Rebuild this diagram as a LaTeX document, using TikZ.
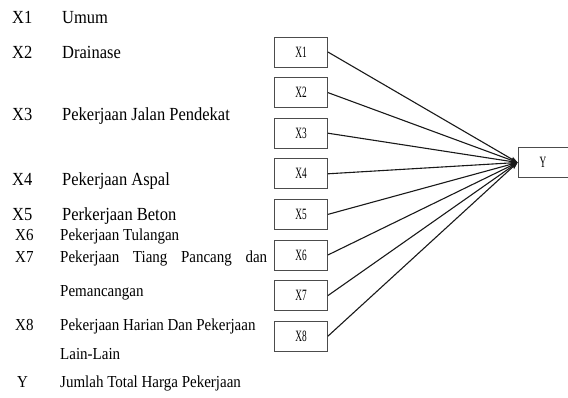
\documentclass[tikz,border=0pt]{standalone}
\usepackage{fontspec}
\setmainfont{Liberation Serif}
\usetikzlibrary{arrows.meta}
\newcommand{\cond}[1]{\scalebox{0.62}[1.05]{#1}}
\newcommand{\tall}[1]{\scalebox{1}[1.12]{#1}}
\tikzset{
  vbox/.style={draw=black!70, line width=0.8pt, minimum width=53pt, minimum height=30pt, inner sep=0pt, fill=white},
  blab/.style={font=\fontsize{15}{15}\selectfont},
  big/.style={anchor=base west, inner sep=0pt, font=\fontsize{16.5}{18}\selectfont},
  small/.style={anchor=base west, inner sep=0pt, font=\fontsize{15}{17}\selectfont},
  conn/.style={draw=black!90, line width=1.1pt, -{Stealth[length=7pt,width=5pt]}}
}
\begin{document}
\begin{tikzpicture}[x=1pt,y=-1pt]
\useasboundingbox (0,0) rectangle (568,398);
% left legend
\node[big] (k1) at (12,24) {\tall{X1}};
\node[big] (t1) at (62,24) {\tall{Umum}};
\node[big] (k2) at (12,59) {\tall{X2}};
\node[big] (t2) at (62,59) {\tall{Drainase}};
\node[big] (k3) at (12,121) {\tall{X3}};
\node[big] (t3) at (62,121) {\tall{Pekerjaan Jalan Pendekat}};
\node[big] (k4) at (12,186) {\tall{X4}};
\node[big] (t4) at (62,186) {\tall{Pekerjaan Aspal}};
\node[big] (k5) at (12,221) {\tall{X5}};
\node[big] (t5) at (62,221) {\tall{Perkerjaan Beton}};
\node[small] (k6) at (15,240.5) {\tall{X6}};
\node[small] (t6) at (60,240.5) {\tall{Pekerjaan Tulangan}};
\node[small] (k7) at (15,262.5) {\tall{X7}};
\node[small] (t7) at (60,262.5) {\tall{\makebox[207pt][s]{Pekerjaan Tiang Pancang dan}}};
\node[small] (t7b) at (60,296.5) {\tall{Pemancangan}};
\node[small] (k8) at (15,330.5) {\tall{X8}};
\node[small] (t8) at (60,330.5) {\tall{Pekerjaan Harian Dan Pekerjaan}};
\node[small] (t8b) at (60,359.5) {\tall{Lain-Lain}};
\node[small] (ky) at (17,387.5) {\tall{Y}};
\node[small] (ty) at (60,387.5) {\tall{Jumlah Total Harga Pekerjaan}};
% boxes
\foreach \i/\yy in {1/52,2/92.6,3/133.2,4/173.8,5/214.4,6/255,7/295.6,8/336.2}{
  \node[vbox, blab] (X\i) at (301,\yy) {\cond{X\i}};
}
\node[vbox, blab, minimum width=50pt] (Y) at (543,162.5) {\cond{Y}};
\foreach \i in {1,...,8}{
  \draw[conn] (X\i.east) -- (Y.west);
}
\end{tikzpicture}
\end{document}
